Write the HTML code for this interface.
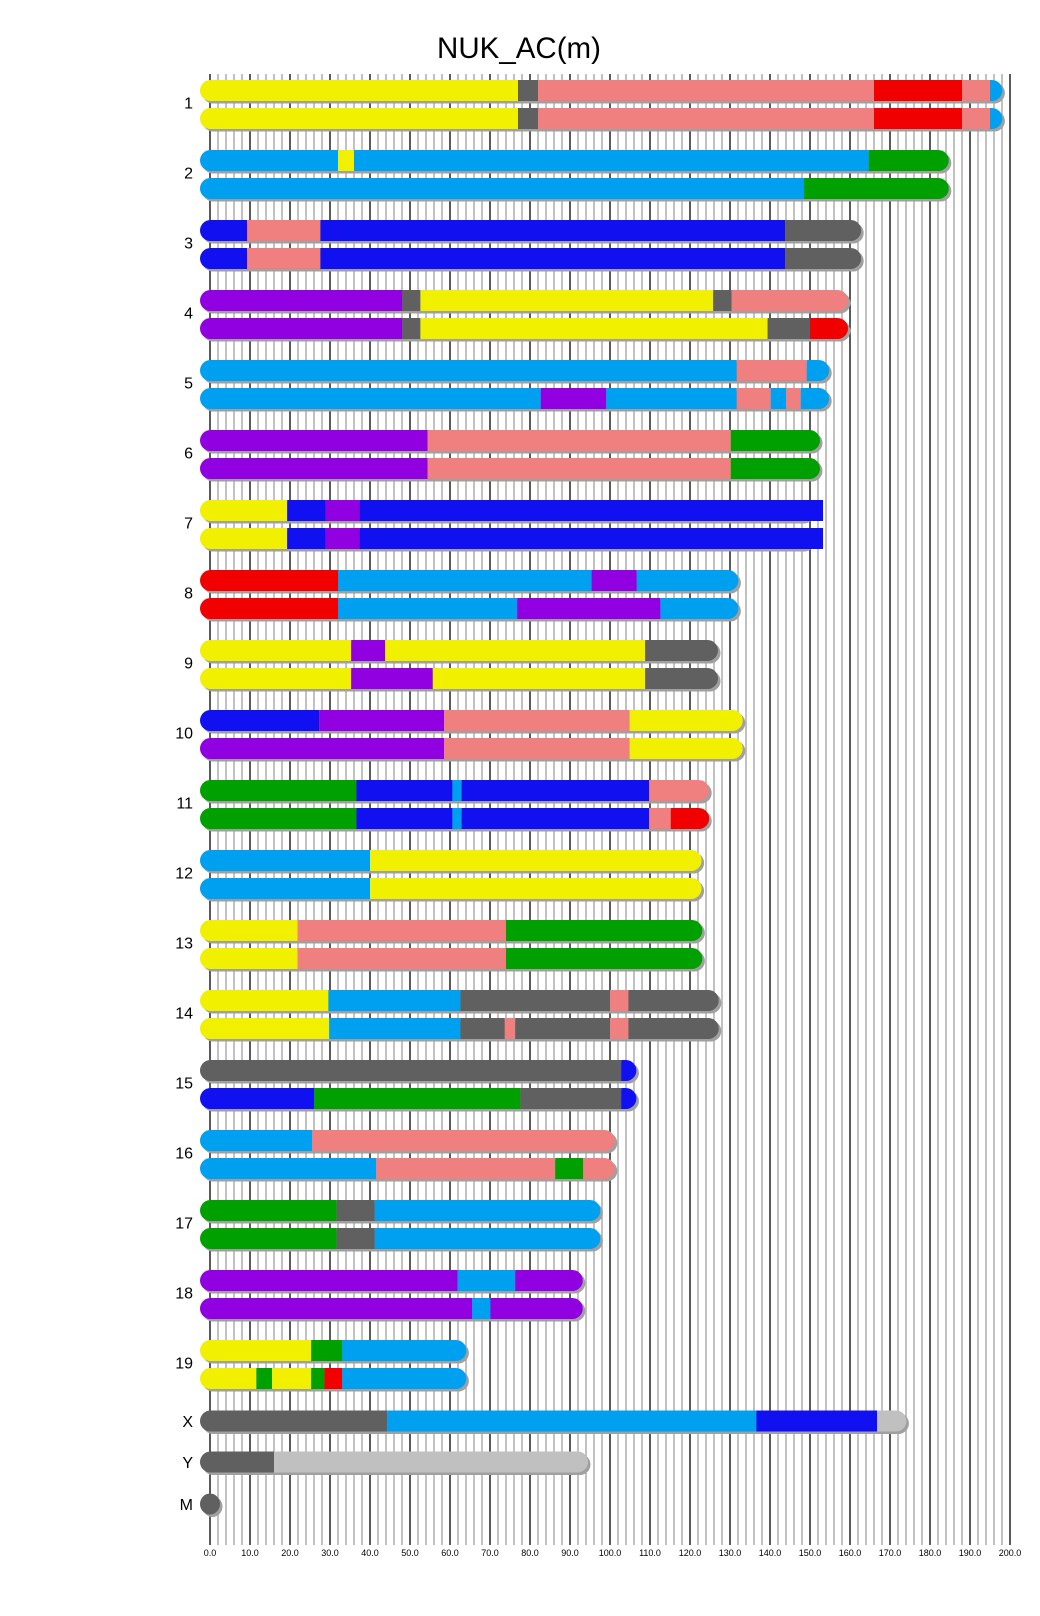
<!DOCTYPE html>
<html><head><meta charset="utf-8"><style>
body{margin:0;background:#fff;}
svg{display:block;font-family:"Liberation Sans",sans-serif;}
</style></head><body>
<svg id="chart" width="1040" height="1616" xmlns="http://www.w3.org/2000/svg">
<text x="519" y="58" font-size="29.5" text-anchor="middle" fill="#000">NUK_AC(m)</text>
<g id="grid"></g>
<g id="ticks"></g>
<g id="chroms"></g>
</svg>
<script>
const tickValues = [0,10,20,30,40,50,60,70,80,90,100,110,120,130,140,150,160,170,180,190,200];
const chromNames = ['1','2','3','4','5','6','7','8','9','10','11','12','13','14','15','16','17','18','19','X','Y','M'];
const chromLengths = [195.6,182.2,160.3,157,152.3,150,148,129.6,124.5,130.7,122.3,120.4,120.6,124.7,104.1,98.7,95.1,90.7,61.6,171.6,92,0];
const hapA = [
 [[77,'Y'],[82,'G'],[166,'P'],[188,'R'],[195,'P'],[999,'B']],
 [[32,'B'],[36,'Y'],[164.7,'B'],[999,'N']],
 [[9.3,'D'],[27.6,'P'],[143.8,'D'],[999,'G']],
 [[48,'V'],[52.6,'G'],[125.8,'Y'],[130.4,'G'],[999,'P']],
 [[131.7,'B'],[149.2,'P'],[999,'B']],
 [[54.4,'V'],[130.2,'P'],[999,'N']],
 [[19.3,'Y'],[28.9,'D'],[37.4,'V'],[999,'D']],
 [[32,'R'],[95.4,'B'],[106.7,'V'],[999,'B']],
 [[35.3,'Y'],[43.8,'V'],[108.8,'Y'],[999,'G']],
 [[27.3,'D'],[58.5,'V'],[104.9,'P'],[999,'Y']],
 [[36.6,'N'],[60.6,'D'],[62.9,'B'],[109.8,'D'],[999,'P']],
 [[40,'B'],[999,'Y']],
 [[21.9,'Y'],[74,'P'],[999,'N']],
 [[29.6,'Y'],[62.6,'B'],[100,'G'],[104.6,'P'],[999,'G']],
 [[102.8,'G'],[999,'D']],
 [[25.5,'B'],[999,'P']],
 [[31.7,'N'],[41.2,'G'],[999,'B']],
 [[61.9,'V'],[76.3,'B'],[999,'V']],
 [[25.3,'Y'],[33,'N'],[999,'B']],
 [[44.3,'G'],[136.6,'B'],[166.8,'D'],[999,'L']],
 [[16,'G'],[999,'L']],
 [[999,'G']]
];
const hapB = [
 [[77,'Y'],[82,'G'],[166,'P'],[188,'R'],[195,'P'],[999,'B']],
 [[148.5,'B'],[999,'N']],
 [[9.3,'D'],[27.6,'P'],[143.8,'D'],[999,'G']],
 [[48,'V'],[52.6,'G'],[139.4,'Y'],[150,'G'],[999,'R']],
 [[82.7,'B'],[99,'V'],[131.7,'B'],[140.2,'P'],[144,'B'],[147.7,'P'],[999,'B']],
 [[54.4,'V'],[130.2,'P'],[999,'N']],
 [[19.3,'Y'],[28.9,'D'],[37.4,'V'],[999,'D']],
 [[32,'R'],[76.8,'B'],[112.6,'V'],[999,'B']],
 [[35.3,'Y'],[55.7,'V'],[108.8,'Y'],[999,'G']],
 [[58.5,'V'],[104.9,'P'],[999,'Y']],
 [[36.6,'N'],[60.6,'D'],[62.9,'B'],[109.8,'D'],[115.2,'P'],[999,'R']],
 [[40,'B'],[999,'Y']],
 [[21.9,'Y'],[74,'P'],[999,'N']],
 [[29.8,'Y'],[62.6,'B'],[73.7,'G'],[76.3,'P'],[100,'G'],[104.6,'P'],[999,'G']],
 [[26,'D'],[77.6,'N'],[102.8,'G'],[999,'D']],
 [[41.5,'B'],[86.3,'P'],[93.3,'N'],[999,'P']],
 [[31.7,'N'],[41.2,'G'],[999,'B']],
 [[65.5,'V'],[70.1,'B'],[999,'V']],
 [[11.6,'Y'],[15.5,'N'],[25.3,'Y'],[28.6,'N'],[33,'R'],[999,'B']],
 null,null,null
];
const colors = {Y:'#f0f000',G:'#606060',P:'#f08080',R:'#f00000',B:'#00a0f0',N:'#00a000',D:'#1010f0',V:'#9000e0',L:'#c0c0c0'};
const NS='http://www.w3.org/2000/svg';
function x(v){return 210+v*4;}
function mk(tag,attrs,parent){const e=document.createElementNS(NS,tag);for(const k in attrs)e.setAttribute(k,attrs[k]);parent.appendChild(e);return e;}
const grid=document.getElementById('grid');
for(let k=0;k<=100;k++){
  const l=mk('line',{x1:x(k*2),x2:x(k*2),y1:74,y2:1545,stroke:k%5===0?'#000':'#a0a0a0','stroke-width':1.3},grid);
  
  
}
const ticks=document.getElementById('ticks');
tickValues.forEach(v=>{
  const t=mk('text',{x:x(v),y:1556,'font-size':9,'text-anchor':'middle',fill:'#000'},ticks);
  t.textContent=v.toFixed(1);
  
  
});
const chroms=document.getElementById('chroms');
let clipId=0;
function drawHap(cy,len,segs,g,flatEnd){
  const h=21,r=10.5,x0=x(0)-10,x1=x(len)+10;
  const sh=mk('rect',{x:x0+2.5,y:cy-r+2.5,width:x1-x0,height:h,rx:r,fill:'#a0a0a0'},g);
  
  
  const id='c'+(clipId++);
  const cp=mk('clipPath',{id:id},g);
  mk('rect',{x:x0,y:cy-r,width:x1-x0,height:h,rx:r},cp);
  let endX=x1;
  if(flatEnd){mk('rect',{x:x1-r,y:cy-r,width:x(flatEnd)-(x1-r),height:h},cp);endX=x(flatEnd);}
  const sg=mk('g',{'clip-path':'url(#'+id+')'},g);
  let prev=x0;
  segs.forEach(s=>{
    const e=Math.min(x(s[0]),endX);
    const rc=mk('rect',{x:prev,y:cy-r,width:Math.max(0,e-prev),height:h,fill:colors[s[1]]},sg);
    
    
    prev=e;
  });
}
chromNames.forEach((name,i)=>{
  const g=mk('g',{},chroms);
  
  
  let cyA,labelY;
  if(i<19){cyA=90.5+70*i;labelY=cyA+12;}
  else{cyA=[1421,1462,1504][i-19];labelY=cyA;}
  const lb=mk('text',{x:193,y:labelY+6,'font-size':16,'text-anchor':'end',fill:'#000'},g);
  lb.textContent=name;
  
  
  const flat=name==='7'?153.3:null;
  drawHap(cyA,chromLengths[i],hapA[i],g,flat);
  if(hapB[i])drawHap(cyA+28,chromLengths[i],hapB[i],g,flat);
});
</script>
</body></html>
